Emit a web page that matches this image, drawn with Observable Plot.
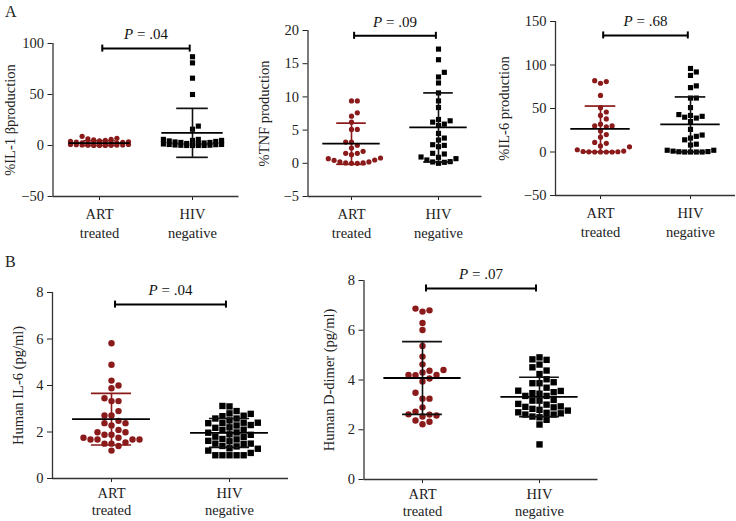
<!DOCTYPE html>
<html><head><meta charset="utf-8">
<script src="https://cdn.jsdelivr.net/npm/d3@7"></script>
<script src="https://cdn.jsdelivr.net/npm/@observablehq/plot@0.6"></script>
<style>
body{margin:0;background:#fff;}
#fig{position:relative;width:736px;height:521px;font-family:"Liberation Serif",serif;}
#fig svg{position:absolute;overflow:visible;}
.lab{position:absolute;font-size:16px;line-height:16px;color:#222;}
</style></head><body><div id="fig"></div>
<script>
// ---- categories ----
const groups = ["ART\ntreated", "HIV\nnegative"];

// ---- Panel A1: %IL-1β production ----
const il1bART = [0,0,0,0.2,0.3,0.4,0.5,0.6,0.8,1.0,1.0,1.2,1.4,1.6,1.8,2.0,2.3,2.6,3.0,3.3,3.6,4.0,4.5,5.0,5.5,6.0,6.5,7.0,9.0];
const il1bHIV = [87,81,66,50,19,16,6,6,5,5,4.5,4,3.5,3,3,2.5,2,2,1.5,1.5,1,1,0.8,0.5,0.3,0.2,0,0,0,0];
const il1bMean = [2.3, 12.4];
const il1bSD = [2.3, 24.0];

// ---- Panel A2: %TNF production ----
const tnfART = [9.4,9.4,7.6,7.1,6.2,5.1,5.1,3.2,3.2,2.7,2.3,1.8,1.5,1.3,1.5,0.8,0.5,0.2,0.05,0,0,0.05,0.2,0.45,0.7];
const tnfHIV = [17.2,15.6,13.7,13.0,12.1,10.6,9.4,8.4,6.4,5.9,5.7,6.2,6.6,4.5,3.5,3.8,2.7,2.8,2.5,1.5,1.4,0.9,0.5,0.2,0,0.15,0.25,0.7,0.95];
const tnfMean = [2.95, 5.4];
const tnfSD = [3.1, 5.2];

// ---- Panel A3: %IL-6 production ----
const il6pART = [82,79,81,65,51,42,38,46,32,30,24,29,30,17,20,11,10,6,7,2.6,1.1,0.6,0.3,0.2,0,0,0,0];
const il6pHIV = [92,88,96,74,76,62,62,51,42,40,39,41,43,35,26,19.5,16,14,18,9,8,2,2,1,0.5,0,0,0,0,0.3];
const il6pMean = [26.5, 31.7];
const il6pSD = [26.3, 31.6];

// ---- Panel B1: Human IL-6 (pg/ml) ----
const il6ART = [5.82,4.89,4.00,3.88,4.21,3.45,3.33,3.33,2.90,2.71,2.71,2.38,2.28,2.38,2.48,1.99,1.88,1.75,1.68,1.68,1.68,1.68,1.75,1.88,1.99,2.09,1.50,1.50,1.55,1.20,1.40];
const il6HIV = [3.12,3.10,2.90,2.80,2.78,2.70,2.68,2.58,2.58,2.50,2.40,2.38,2.38,2.40,2.30,2.28,2.20,2.18,2.10,2.08,1.98,1.97,1.90,1.88,1.80,1.78,1.70,1.68,1.62,1.60,1.50,1.50,1.48,1.40,1.38,1.30,1.28,1.20,1.10,1.00,1.00,1.00,1.00,1.00];
const il6Mean = [2.55, 1.96];
const il6SD = [1.11, 0.62];

// ---- Panel B2: Human D-dimer (pg/ml) ----
const ddART = [6.87,6.75,6.80,6.29,6.01,5.37,4.94,4.63,4.40,4.30,4.37,4.20,4.19,4.20,4.06,3.94,3.49,3.25,3.25,2.90,2.73,2.62,2.57,2.61,2.53,2.37,2.22,2.32];
const ddHIV = [4.91,4.81,4.62,4.83,4.51,4.38,4.24,4.03,3.87,3.87,3.91,3.69,3.56,3.47,3.45,3.51,3.57,3.36,3.36,3.17,3.04,3.17,3.20,3.01,2.94,2.90,2.80,2.70,2.66,2.61,2.61,2.68,2.77,2.84,2.92,2.53,2.50,2.40,2.21,1.41];
const ddMean = [4.08, 3.32];
const ddSD = [1.46, 0.79];

// ---- annotations ----
const yLabels = ["%IL-1 βproduction", "%TNF production", "%IL-6 production", "Human IL-6 (pg/ml)", "Human D-dimer (pg/ml)"];
const pValues = [".04", ".09", ".68", ".04", ".07"];
const bracketY = [95, 19.2, 134, 7.48, 7.68];
const yDomains = [[-50, 100], [-5, 20], [-50, 150], [0, 8], [0, 8]];
const yTicks = [[-50, 0, 50, 100], [-5, 0, 5, 10, 15, 20], [-50, 0, 50, 100, 150], [0, 2, 4, 6, 8], [0, 2, 4, 6, 8]];

const RED = "#8b1a1a";

// beeswarm-like column scatter layout (pixel offsets)
function swarm(vals, kY, diam, maxHalf) {
  const idx = d3.range(vals.length).sort((a, b) => vals[a] - vals[b]);
  const K = Math.floor(maxHalf / diam);
  const cands = [0];
  for (let k = 1; k <= K; k++) cands.push(k * diam, -k * diam);
  const placed = [], off = new Array(vals.length);
  for (const i of idx) {
    const y = vals[i] * kY;
    let found = null, fb = 0, fbD = -1;
    for (const c of cands) {
      let minD = Infinity;
      for (const p of placed) { const d = Math.hypot(p.x - c, p.y - y); if (d < minD) minD = d; }
      if (minD >= diam * 0.98) { found = c; break; }
      if (minD > fbD) { fbD = minD; fb = c; }
    }
    const x = found !== null ? found : fb;
    placed.push({x, y});
    off[i] = x;
  }
  return off;
}

const panels = [
  {vals: [il1bART, il1bHIV], mean: il1bMean, sd: il1bSD, left: 0, top: 0, width: 250, height: 241, mL: 52.5, mR: 11.5, mT: 43, mB: 45, lo: 48, rc: 2.6, rs: 2.9, maxHalf: 30, errColor: RED, pad: 5, lh: 1.3},
  {vals: [tnfART, tnfHIV], mean: tnfMean, sd: tnfSD, left: 250, top: 0, width: 240, height: 241, mL: 57.5, mR: 8.5, mT: 30, mB: 45, lo: 49, rc: 2.6, rs: 2.9, maxHalf: 30, errColor: RED, pad: 5, lh: 1.3},
  {vals: [il6pART, il6pHIV], mean: il6pMean, sd: il6pSD, left: 490, top: 0, width: 246, height: 240, mL: 65, mR: 1, mT: 21, mB: 45, lo: 57, rc: 2.6, rs: 2.9, maxHalf: 30, errColor: RED, pad: 5, lh: 1.3},
  {vals: [il6ART, il6HIV], mean: il6Mean, sd: il6SD, left: 0, top: 260, width: 300, height: 261, mL: 52, mR: 12, mT: 32, mB: 43, lo: 40, rc: 3.2, rs: 3.6, maxHalf: 37, errColor: RED, pad: 3, lh: 1.2},
  {vals: [ddART, ddHIV], mean: ddMean, sd: ddSD, left: 300, top: 260, width: 300, height: 261, mL: 63.5, mR: 2.5, mT: 20, mB: 42, lo: 40, rc: 3.2, rs: 3.6, maxHalf: 36, errColor: "#111", pad: 3, lh: 1.2}
];

const fig = document.getElementById("fig");

panels.forEach((cfg, k) => {
  const [y0, y1] = yDomains[k];
  const innerH = cfg.height - cfg.mT - cfg.mB;
  const innerW = cfg.width - cfg.mL - cfg.mR;
  const kY = innerH / (y1 - y0), kX = innerW / 2;
  const pts = [[], []];
  cfg.vals.forEach((vals, g) => {
    const diam = 2 * (g === 0 ? cfg.rc : cfg.rs * 0.9) + 0.6;
    const offs = swarm(vals, kY, diam, cfg.maxHalf);
    vals.forEach((v, i) => pts[g].push({v, x: g + offs[i] / kX}));
  });
  const stats = [0, 1].map(g => ({g, mean: cfg.mean[g], sd: cfg.sd[g]}));
  const hb = 3.5 / kY;
  const b = bracketY[k];
  const errMarks = stats.flatMap(s => {
    const col = s.g === 0 ? cfg.errColor : "#111";
    return [
      Plot.ruleX([s], {x: "g", y1: d => d.mean - d.sd, y2: d => d.mean + d.sd, stroke: col, strokeWidth: 1.6}),
      Plot.ruleY([s], {y: d => d.mean + d.sd, x1: d => d.g - 0.17, x2: d => d.g + 0.17, stroke: col, strokeWidth: 1.7}),
      Plot.ruleY([s], {y: d => d.mean - d.sd, x1: d => d.g - 0.17, x2: d => d.g + 0.17, stroke: col, strokeWidth: 1.7})
    ];
  });
  const svg = Plot.plot({
    width: cfg.width, height: cfg.height,
    marginLeft: cfg.mL, marginRight: cfg.mR, marginTop: cfg.mT, marginBottom: cfg.mB,
    style: {fontFamily: "'Liberation Serif', serif", fontSize: "14.5px", background: "transparent", color: "#222", overflow: "visible"},
    x: {domain: [-0.5, 1.5], axis: null},
    y: {domain: yDomains[k], axis: null},
    marks: [
      Plot.axisY({ticks: yTicks[k], tickSize: 5, tickPadding: 4, label: yLabels[k], labelAnchor: "center", labelOffset: cfg.lo, labelArrow: "none", fontSize: 14.5}),
      Plot.axisX({ticks: [0, 1], tickFormat: d => groups[d], tickSize: 4, tickPadding: cfg.pad, label: null, lineHeight: cfg.lh, fontSize: 14.5}),
      Plot.ruleX([-0.5], {stroke: "#333", strokeWidth: 1.3}),
      Plot.ruleY([y0], {stroke: "#333", strokeWidth: 1.3}),
      Plot.dot(pts[0], {x: "x", y: "v", r: cfg.rc, fill: RED, stroke: "none"}),
      Plot.dot(pts[1], {x: "x", y: "v", r: cfg.rs, symbol: "square", fill: "#000", stroke: "none"}),
      ...errMarks,
      Plot.ruleY(stats, {y: "mean", x1: d => d.g - 0.33, x2: d => d.g + 0.33, stroke: "#000", strokeWidth: 1.8}),
      Plot.ruleY([b], {x1: 0.03, x2: 0.97, stroke: "#000", strokeWidth: 2}),
      Plot.ruleX([0.03, 0.97], {x: d => d, y1: b - hb, y2: b + hb, stroke: "#000", strokeWidth: 2}),
      Plot.text([pValues[k]], {x: 0.5, y: b, text: d => "P = " + d, dy: -14, fontSize: 15, fill: "#111"})
    ]
  });
  d3.select(svg).selectAll("text").each(function () {
    const t = this.textContent;
    if (t.startsWith("P = ")) {
      const rest = t.slice(1);
      d3.select(this).text(null);
      d3.select(this).append("tspan").attr("font-style", "italic").text("P");
      d3.select(this).append("tspan").text(rest);
    }
  });
  svg.style.left = cfg.left + "px";
  svg.style.top = cfg.top + "px";
  fig.appendChild(svg);
});

const labA = document.createElement("div");
labA.className = "lab"; labA.style.left = "5px"; labA.style.top = "4px"; labA.textContent = "A";
const labB = document.createElement("div");
labB.className = "lab"; labB.style.left = "5px"; labB.style.top = "254px"; labB.textContent = "B";
fig.appendChild(labA); fig.appendChild(labB);
</script>
</body></html>
